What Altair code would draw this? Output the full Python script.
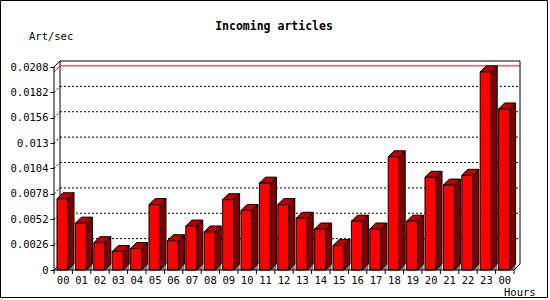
import altair as alt
import pandas as pd

# ---- data ----
hours = ["00", "01", "02", "03", "04", "05", "06", "07", "08", "09", "10", "11",
         "12", "13", "14", "15", "16", "17", "18", "19", "20", "21", "22", "23", "00"]
values = [0.0073, 0.0048, 0.0028, 0.0019, 0.0022, 0.0067, 0.0030, 0.0045, 0.0039,
          0.0072, 0.0061, 0.0089, 0.0067, 0.0053, 0.0042, 0.0025, 0.0050, 0.0042,
          0.0116, 0.0050, 0.0095, 0.0087, 0.0097, 0.0203, 0.0165]
y_ticks = [0, 0.0026, 0.0052, 0.0078, 0.0104, 0.013, 0.0156, 0.0182, 0.0208]
title_text = "Incoming articles"
y_label = "Art/sec"
x_label = "Hours"

# ---- geometry (styling) ----
W, H = 466, 209
n = len(values)
band_px = 18.4
depth_px = 6
ytop_front = y_ticks[-1]
dxu = depth_px / band_px                     # depth in x-units
xmax = n + dxu
ppu = (H - depth_px) / ytop_front            # px per y unit
dyu = depth_px / ppu                         # depth in y-units
ymax = ytop_front + dyu
off = 3.0 / band_px
bw = 11.0 / band_px

FONT = "DejaVu Sans Mono"
xs = alt.Scale(domain=[0, xmax], nice=False, zero=False)
ys = alt.Scale(domain=[0, ymax], nice=False, zero=False)
yax = alt.Axis(values=y_ticks, labelExpr="format(datum.value, '.4~f')", domain=False,
               grid=False, ticks=True, tickSize=4, tickColor="black", labelColor="black",
               labelFont=FONT, labelFontSize=10.5, labelPadding=2, title=None)

# ---- derived tables ----
bars = pd.DataFrame({"i": range(n), "h": hours, "v": values})
bars["xl"] = bars["i"] + off
bars["xr"] = bars["xl"] + bw
bars["c"] = bars["i"] + 0.5

side_rows, top_rows, shadow_rows = [], [], []
for i, v in enumerate(values):
    xl = i + off
    xr = xl + bw
    side_rows += [dict(i=i, x=xr, y=0.0, y2=v), dict(i=i, x=xr + dxu, y=dyu, y2=v + dyu)]
    top_rows += [dict(i=i, y=v, x=xl, x2=xr), dict(i=i, y=v + dyu, x=xl + dxu, x2=xr + dxu)]
    shadow_rows += [dict(i=i, x=xr, y=0.0, y2=0.0), dict(i=i, x=xr + dxu, y=0.0, y2=dyu)]
side = pd.DataFrame(side_rows)
top = pd.DataFrame(top_rows)
shadow = pd.DataFrame(shadow_rows)

grid_rows = []
for t in y_ticks[1:-1]:
    grid_rows.append(dict(x=dxu, x2=xmax, y=t + dyu, y2=t + dyu))
    grid_rows.append(dict(x=0, x2=dxu, y=t, y2=t + dyu))
grid = pd.DataFrame(grid_rows)

frame = pd.DataFrame([
    dict(x=dxu, x2=xmax, y=ymax, y2=ymax),
    dict(x=dxu, x2=dxu, y=ymax, y2=dyu),
    dict(x=xmax, x2=xmax, y=ymax, y2=dyu),
    dict(x=0, x2=dxu, y=0, y2=dyu),
])
front = pd.DataFrame([
    dict(x=0, x2=0, y=0, y2=ytop_front),
    dict(x=0, x2=dxu, y=ytop_front, y2=ymax),
    dict(x=0, x2=n, y=0, y2=0),
    dict(x=n, x2=xmax, y=0, y2=dyu),
])
vmax = max(values)
maxline = pd.DataFrame([
    dict(x=0, x2=dxu, y=vmax, y2=vmax + dyu),
    dict(x=dxu, x2=xmax, y=vmax + dyu, y2=vmax + dyu),
])
ticks_df = pd.DataFrame({"b": range(n + 1)})


def seg(df, **kw):
    return alt.Chart(df).mark_rule(**kw).encode(
        x=alt.X("x:Q", scale=xs, axis=None),
        x2="x2:Q",
        y=alt.Y("y:Q", scale=ys, axis=yax),
        y2="y2:Q",
    )


grid_l = seg(grid, color="black", strokeDash=[2, 2], strokeWidth=1)
frame_l = seg(frame, color="black", strokeWidth=1)
max_l = seg(maxline, color="#ff0000", strokeWidth=1)
front_l = seg(front, color="black", strokeWidth=1)

shadow_l = alt.Chart(shadow).mark_area(orient="vertical", color="#808080").encode(
    x=alt.X("x:Q", scale=xs, axis=None),
    y=alt.Y("y:Q", scale=ys, axis=yax, stack=None),
    y2="y2:Q",
    detail="i:N",
)
side_l = alt.Chart(side).mark_area(orient="vertical", fill="#800000", stroke="black",
                                    strokeWidth=1).encode(
    x=alt.X("x:Q", scale=xs, axis=None),
    y=alt.Y("y:Q", scale=ys, axis=yax, stack=None),
    y2="y2:Q",
    detail="i:N",
)
top_l = alt.Chart(top).mark_area(orient="horizontal", fill="#c00000", stroke="black",
                                  strokeWidth=1).encode(
    y=alt.Y("y:Q", scale=ys, axis=yax),
    x=alt.X("x:Q", scale=xs, axis=None, stack=None),
    x2="x2:Q",
    detail="i:N",
)
front_bars = alt.Chart(bars).mark_rect(fill="#ff0000", stroke="black", strokeWidth=1).encode(
    x=alt.X("xl:Q", scale=xs, axis=None),
    x2="xr:Q",
    y=alt.Y("v:Q", scale=ys, axis=yax),
    y2=alt.datum(0),
)

xticks_l = alt.Chart(ticks_df).mark_rule(color="black", strokeWidth=1).encode(
    x=alt.X("b:Q", scale=xs, axis=None),
    y=alt.value(H),
    y2=alt.value(H + 4),
)
xlabels_l = alt.Chart(bars).mark_text(font=FONT, fontSize=10.5, color="black",
                                       baseline="middle", align="center").encode(
    x=alt.X("c:Q", scale=xs, axis=None),
    y=alt.value(H + 11),
    text="h:N",
)

one = pd.DataFrame({"k": [0]})
title_l = alt.Chart(one).mark_text(font=FONT, fontSize=11.5, fontWeight="bold", color="black",
                                   align="center", baseline="middle").encode(
    x=alt.value(274 - 54), y=alt.value(27 - 61), text=alt.value(title_text))
ylab_l = alt.Chart(one).mark_text(font=FONT, fontSize=10.5, color="black",
                                  align="left", baseline="middle").encode(
    x=alt.value(29 - 54), y=alt.value(37 - 61), text=alt.value(y_label))
xlab_l = alt.Chart(one).mark_text(font=FONT, fontSize=10.5, color="black",
                                  align="left", baseline="middle").encode(
    x=alt.value(504 - 54), y=alt.value(293 - 61), text=alt.value(x_label))
border_l = alt.Chart(one).mark_rect(filled=False, stroke="black", strokeWidth=1).encode(
    x=alt.value(-53.5), x2=alt.value(493.5), y=alt.value(-60.5), y2=alt.value(236.5))

chart = alt.layer(
    grid_l, frame_l, max_l, shadow_l, side_l, top_l, front_bars, front_l,
    xticks_l, xlabels_l, title_l, ylab_l, xlab_l, border_l,
).properties(
    width=W, height=H,
    padding={"left": 54, "top": 61, "right": 30, "bottom": 30},
    autosize=alt.AutoSizeParams(type="none"),
    background="white",
).configure_view(stroke=None)

chart.save("out.html", embed_options={"renderer": "svg", "actions": False})
